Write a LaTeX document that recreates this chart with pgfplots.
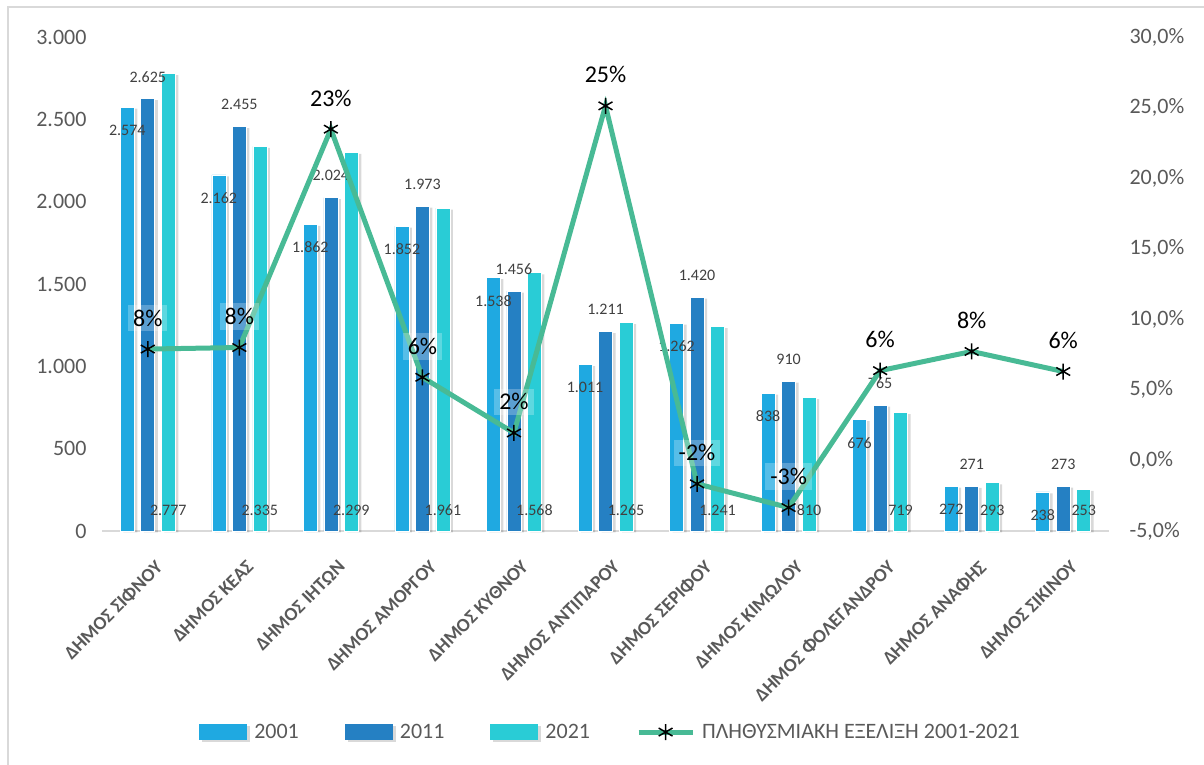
\documentclass[border=0pt]{standalone}
\usepackage{fontspec}
\setmainfont{Carlito}
\usepackage{pgfplots}
\pgfplotsset{compat=1.18}
\usepackage{pgfplotstable}

\definecolor{cA}{HTML}{1FA9E1}
\definecolor{cB}{HTML}{2580C3}
\definecolor{cC}{HTML}{29CCD6}
\definecolor{cL}{HTML}{48BA95}
\definecolor{txt}{HTML}{595959}
\definecolor{lab}{HTML}{404040}

\pgfplotstableread{
x a b c p
0 2574 2625 2777 7.89
1 2162 2455 2335 8.00
2 1862 2024 2299 23.47
3 1852 1973 1961 5.89
4 1538 1456 1568 1.95
5 1011 1211 1265 25.12
6 1262 1420 1241 -1.66
7 838 910 810 -3.34
8 676 765 719 6.36
9 272 271 293 7.72
10 238 273 253 6.30
}\data

\tikzset{vallab/.style={font=\fontsize{16}{19}\selectfont, text=lab, anchor=center, inner sep=0pt}}

\pgfplotsset{
  common/.style={
    width=1007pt, height=494pt, scale only axis,
    at={(102pt,234pt)}, anchor=south west,
    xmin=-0.5, xmax=10.5, clip=false,
    /pgf/number format/assume math mode=true,
    major tick length=0pt,
  },
  barstyle/.style={
    ybar, bar width=14pt, draw=white, line width=0.6pt,
    preaction={fill=black, opacity=0.15, draw=none, transform canvas={xshift=3pt,yshift=-1.5pt}},
    nodes near coords,
    legend image code/.code={\fill[##1, draw=none, preaction={draw=none, fill=none, opacity=0}] (0pt,-8pt) rectangle (48pt,8pt);},
  },
  linelegend/.style={
    legend image code/.code={\draw[##1, mark=none] (0pt,0pt) -- (54pt,0pt);
      \draw plot[only marks, mark=asterisk, mark size=8pt, mark options={black, line width=1.5pt}] coordinates {(27pt,0pt)};}
  },
}

\begin{document}
\begin{tikzpicture}
\useasboundingbox (0,0) rectangle (1204pt,765pt);
\draw[black!15, line width=1.5pt] (8pt,0pt) -- (8pt,758pt) -- (1204pt,758pt);

\begin{axis}[common,
  ymin=0, ymax=3000, ytick={0,500,...,3000},
  axis x line*=bottom, axis y line*=left,
  y axis line style={draw=none},
  x axis line style={draw=black!15, line width=1.5pt},
  /pgf/number format/1000 sep={.},
  scaled y ticks=false,
  yticklabel style={font=\fontsize{22}{26}\selectfont, text=txt, xshift=-12pt},
  xtick={0,...,10},
  xticklabels={ΔΗΜΟΣ ΣΙΦΝΟΥ, ΔΗΜΟΣ ΚΕΑΣ, ΔΗΜΟΣ ΙΗΤΩΝ, ΔΗΜΟΣ ΑΜΟΡΓΟΥ, ΔΗΜΟΣ ΚΥΘΝΟΥ, ΔΗΜΟΣ ΑΝΤΙΠΑΡΟΥ, ΔΗΜΟΣ ΣΕΡΙΦΟΥ, ΔΗΜΟΣ ΚΙΜΩΛΟΥ, ΔΗΜΟΣ ΦΟΛΕΓΑΝΔΡΟΥ, ΔΗΜΟΣ ΑΝΑΦΗΣ, ΔΗΜΟΣ ΣΙΚΙΝΟΥ},
  xticklabel style={rotate=45, anchor=north east, font=\fontsize{19}{22}\selectfont\bfseries, text=txt, yshift=-21pt, xshift=-12pt},
  legend columns=4,
  legend style={draw=none, fill=none, at={(0.505,-0.407)}, anchor=center,
    font=\fontsize{22}{26}\selectfont, text=txt,
    /tikz/every odd column/.append style={column sep=5pt},
    /tikz/every even column/.append style={column sep=44pt}},
  legend cell align=left,
]
\addplot[barstyle, fill=cA, bar shift=-20.5pt,
  nodes near coords style={vallab, yshift=-23pt, xshift=-20.5pt}] table[x=x, y=a] {\data};
\addlegendentry{2001}
\addplot[barstyle, fill=cB, bar shift=0pt,
  nodes near coords style={vallab, yshift=22pt}] table[x=x, y=b] {\data};
\addlegendentry{2011}
\addplot[barstyle, fill=cC, bar shift=20.5pt,
  visualization depends on={rawy \as \rawy},
  nodes near coords style={vallab, xshift=20.5pt, yshift={21pt-\rawy*0.164667pt}}] table[x=x, y=c] {\data};
\addlegendentry{2021}
\addlegendimage{cL, line width=5pt, linelegend}
\addlegendentry{ΠΛΗΘΥΣΜΙΑΚΗ ΕΞΕΛΙΞΗ 2001-2021}
\end{axis}

\begin{axis}[common,
  ymin=-5, ymax=30, ytick={-5,0,...,30},
  axis x line=none, axis y line*=right,
  y axis line style={draw=none},
  yticklabel={\pgfmathprintnumber[fixed, fixed zerofill, precision=1, use comma]{\tick}\%},
  yticklabel style={font=\fontsize{22}{26}\selectfont, text=txt, anchor=west, xshift=17pt},
]
\addplot[cL, line width=5pt, mark=asterisk, mark size=8pt,
  mark options={black, line width=1.5pt},
  nodes near coords={\pgfmathprintnumber[fixed, precision=0]{\pgfplotspointmeta}\%},
  nodes near coords style={font=\fontsize{24}{28}\selectfont, text=black, anchor=center,
    yshift=31pt, fill=white, fill opacity=0.25, text opacity=1, inner sep=5pt}]
  table[x=x, y=p] {\data};
\end{axis}
\end{tikzpicture}
\end{document}
